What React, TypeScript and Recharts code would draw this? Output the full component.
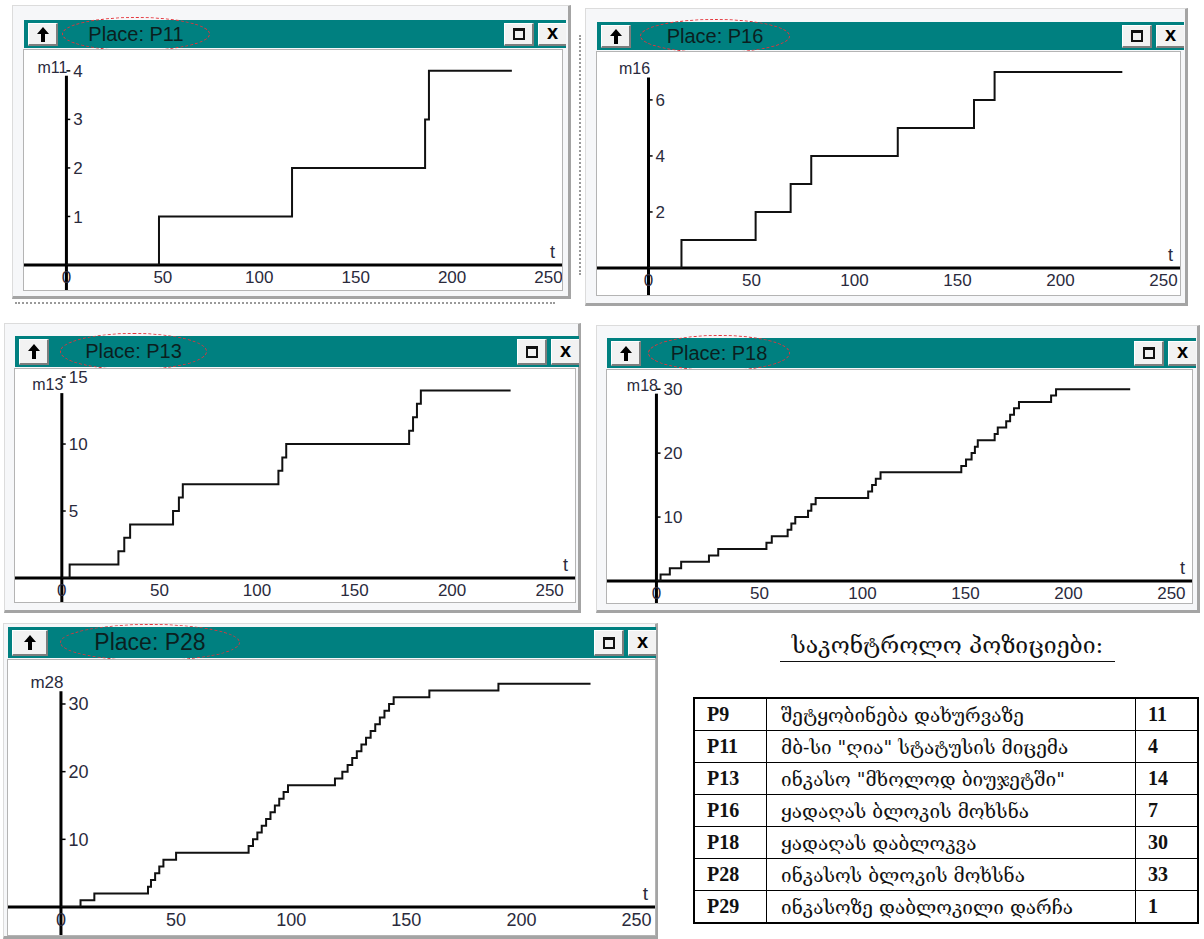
import React from "react";
import { LineChart, Line, XAxis, YAxis, ReferenceLine } from "recharts";

// shared time ticks
const xTicks = [0, 50, 100, 150, 200, 250];

// marking of each place over time (step changes)
const p11Times = [0, 48, 117, 186, 188, 231];
const p11Marks = [0, 1, 2, 3, 4, 4];
const p11YTicks = [1, 2, 3, 4];

const p16Times = [0, 16, 52, 69, 79, 121, 158, 168, 230];
const p16Marks = [0, 1, 2, 3, 4, 5, 6, 7, 7];
const p16YTicks = [2, 4, 6];

const p13Times = [0, 4, 29, 32, 35, 57, 60, 62, 111, 113, 115, 178, 180, 182, 184, 230];
const p13Marks = [0, 1, 2, 3, 4, 5, 6, 7, 8, 9, 10, 11, 12, 13, 14, 14];
const p13YTicks = [5, 10, 15];

const p18Times = [
  0, 2, 6.5, 12, 25.5, 30, 53.4, 56, 63.7, 65.5, 67.4, 73.6, 75.2, 77.3, 102.8, 104.7,
  106.5, 108.8, 148, 150.3, 153, 154.6, 156, 164.2, 165.7, 169.8, 171.7, 173.6, 176,
  191.6, 194, 230,
];
const p18Marks = [
  0, 1, 2, 3, 4, 5, 6, 7, 8, 9, 10, 11, 12, 13, 14, 15, 16, 17, 18, 19, 20, 21, 22, 23,
  24, 25, 26, 27, 28, 29, 30, 30,
];
const p18YTicks = [10, 20, 30];

const p28Times = [
  0, 8.5, 14.5, 37.8, 39.1, 40.9, 42.7, 44.5, 50, 81.5, 83.4, 85.3, 87.2, 89.1, 91, 92.9,
  94.8, 96.7, 98.6, 119, 122.2, 124.5, 126.5, 128.5, 130.5, 132.5, 134.5, 136.5, 138.5,
  140.5, 142.5, 144.5, 160, 190, 230,
];
const p28Marks = [
  0, 1, 2, 3, 4, 5, 6, 7, 8, 9, 10, 11, 12, 13, 14, 15, 16, 17, 18, 19, 20, 21, 22, 23,
  24, 25, 26, 27, 28, 29, 30, 31, 32, 33, 33,
];
const p28YTicks = [10, 20, 30];

// control positions table
const tableTitle = "საკონტროლო პოზიციები:";
const tablePlaces = ["P9", "P11", "P13", "P16", "P18", "P28", "P29"];
const tableNames = [
  "შეტყობინება დახურვაზე",
  "მბ-სი \"ღია\" სტატუსის მიცემა",
  "ინკასო \"მხოლოდ ბიუჯეტში\"",
  "ყადაღას ბლოკის მოხსნა",
  "ყადაღას დაბლოკვა",
  "ინკასოს ბლოკის მოხსნა",
  "ინკასოზე დაბლოკილი დარჩა",
];
const tableCounts = [11, 4, 14, 7, 30, 33, 1];

type Rect = { x: number; y: number; w: number; h: number };

type PanelSpec = {
  place: string;
  mLabel: string;
  times: number[];
  marks: number[];
  yTicks: number[];
  xDomain: [number, number];
  yMax: number;
  axisTop: number;
  axisH: number;
  frame: Rect;
  bar: Rect;
  plot: Rect;
  ellipse: [number, number];
  upW: number;
  font: number;
  titleFont: number;
};

const panels: PanelSpec[] = [
  {
    place: "P11", mLabel: "m11", times: p11Times, marks: p11Marks, yTicks: p11YTicks,
    xDomain: [-22, 257], yMax: 4.43, axisTop: 3.9, axisH: 25,
    frame: { x: 12, y: 5, w: 559, h: 294 }, bar: { x: 24, y: 20, w: 542, h: 28 },
    plot: { x: 24, y: 50, w: 538, h: 240 }, ellipse: [38, 148], upW: 30, font: 17, titleFont: 20,
  },
  {
    place: "P16", mLabel: "m16", times: p16Times, marks: p16Marks, yTicks: p16YTicks,
    xDomain: [-25, 258], yMax: 7.71, axisTop: 6.8, axisH: 27,
    frame: { x: 585, y: 8, w: 603, h: 298 }, bar: { x: 597, y: 22, w: 587, h: 28 },
    plot: { x: 597, y: 52, w: 583, h: 243 }, ellipse: [43, 150], upW: 30, font: 17, titleFont: 20,
  },
  {
    place: "P13", mLabel: "m13", times: p13Times, marks: p13Marks, yTicks: p13YTicks,
    xDomain: [-24, 263], yMax: 15.6, axisTop: 13.8, axisH: 24,
    frame: { x: 4, y: 323, w: 577, h: 290 }, bar: { x: 15, y: 336, w: 564, h: 31 },
    plot: { x: 15, y: 369, w: 560, h: 233 }, ellipse: [45, 147], upW: 30, font: 17, titleFont: 20,
  },
  {
    place: "P18", mLabel: "m18", times: p18Times, marks: p18Marks, yTicks: p18YTicks,
    xDomain: [-24, 260], yMax: 33, axisTop: 29.3, axisH: 22,
    frame: { x: 596, y: 325, w: 604, h: 288 }, bar: { x: 607, y: 338, w: 589, h: 30 },
    plot: { x: 607, y: 370, w: 585, h: 233 }, ellipse: [41, 142], upW: 30, font: 17, titleFont: 20,
  },
  {
    place: "P28", mLabel: "m28", times: p28Times, marks: p28Marks, yTicks: p28YTicks,
    xDomain: [-23, 258], yMax: 36.5, axisTop: 31.9, axisH: 28,
    frame: { x: 3, y: 623, w: 655, h: 316 }, bar: { x: 8, y: 627, w: 648, h: 31 },
    plot: { x: 8, y: 660, w: 647, h: 275 }, ellipse: [52, 180], upW: 36, font: 18, titleFont: 23,
  },
];

const sans = '"Liberation Sans", Arial, sans-serif';
const georgian = '"DejaVu Serif", "DejaVu Sans", serif';
const tickColor = "#2a2a3c";

const btn: React.CSSProperties = {
  position: "absolute",
  background: "#f2f2f2",
  borderTop: "1px solid #ffffff",
  borderLeft: "1px solid #ffffff",
  borderRight: "2px solid #7d7d7d",
  borderBottom: "2px solid #7d7d7d",
  boxSizing: "border-box",
  display: "flex",
  alignItems: "center",
  justifyContent: "center",
  color: "#000",
};

function UpArrow() {
  return (
    <svg width={14} height={17} viewBox="0 0 14 17">
      <path d="M7 1 L13 8 L9 8 L9 16 L5 16 L5 8 L1 8 Z" fill="#000" />
    </svg>
  );
}

function Panel({ s }: { s: PanelSpec }) {
  const data = s.times.map((t, i) => ({ t, m: s.marks[i] }));
  const { frame, bar, plot } = s;
  const labelStyle = { fill: tickColor, fontSize: s.font, fontFamily: sans };
  return (
    <>
      <div
        style={{
          position: "absolute", left: frame.x, top: frame.y, width: frame.w, height: frame.h,
          background: "#f6f7f9", boxSizing: "border-box",
          borderTop: "1px solid #dcdcdc", borderLeft: "1px solid #dcdcdc",
          borderRight: "3px solid #a4a4a4", borderBottom: "3px solid #a4a4a4",
        }}
      />
      <div
        style={{
          position: "absolute", left: bar.x, top: bar.y, width: bar.w, height: bar.h,
          background: "#008080", overflow: "hidden",
        }}
      >
        <div style={{ ...btn, left: 4, top: 3, width: s.upW, height: bar.h - 5 }}>
          <UpArrow />
        </div>
        <div style={{ ...btn, left: bar.w - 62, top: 3, width: 30, height: bar.h - 5 }}>
          <div style={{ width: 12, height: 12, border: "2px solid #111", borderTopWidth: 3, boxSizing: "border-box" }} />
        </div>
        <div style={{ ...btn, left: bar.w - 28, top: 3, width: 30, height: bar.h - 5, fontSize: 20, fontWeight: 700, fontFamily: sans, paddingBottom: 3 }}>
          x
        </div>
      </div>
      <div
        style={{
          position: "absolute", left: bar.x + s.ellipse[0], top: bar.y - 3,
          width: s.ellipse[1], height: bar.h + 6, boxSizing: "border-box",
          border: "1.5px dashed #e5333a", borderRadius: "50%",
          display: "flex", alignItems: "center", justifyContent: "center",
          fontFamily: sans, fontSize: s.titleFont, color: "#0b1f1f",
        }}
      >
        Place: {s.place}
      </div>
      <div
        style={{
          position: "absolute", left: plot.x, top: plot.y, width: plot.w, height: plot.h,
          background: "#fff", outline: "1px solid #b4b4b4",
        }}
      >
        <LineChart width={plot.w} height={plot.h} data={data} margin={{ top: 0, right: 0, bottom: 0, left: 0 }}>
          <XAxis
            type="number" dataKey="t" domain={s.xDomain} ticks={xTicks} interval={0}
            allowDataOverflow axisLine={false} tickLine={false} tickMargin={0}
            height={s.axisH} tick={labelStyle}
          />
          <YAxis hide type="number" domain={[0, s.yMax]} allowDataOverflow />
          <ReferenceLine
            y={0} stroke="#000" strokeWidth={3}
            label={{ value: "t", position: "insideBottomRight", offset: 7, ...labelStyle, fontSize: s.font + 1 }}
          />
          <ReferenceLine
            segment={[{ x: 0, y: -s.yMax * 0.2 }, { x: 0, y: s.axisTop }]}
            ifOverflow="visible" stroke="#000" strokeWidth={3}
            label={{ value: s.mLabel, position: "top", dx: -14, offset: 3, ...labelStyle, fontSize: s.font - 1 }}
          />
          {s.yTicks.map((v) => (
            <ReferenceLine
              key={v}
              segment={[{ x: 0, y: v }, { x: 2, y: v }]}
              ifOverflow="visible" stroke="#000" strokeWidth={1.5}
              label={{ value: String(v), position: "right", offset: 3, ...labelStyle }}
            />
          ))}
          <Line type="stepAfter" dataKey="m" stroke="#111" strokeWidth={2} dot={false} isAnimationActive={false} />
        </LineChart>
      </div>
    </>
  );
}

const cell: React.CSSProperties = {
  border: "1.5px solid #000",
  height: 31,
  padding: "0 0 0 12px",
  verticalAlign: "middle",
  whiteSpace: "nowrap",
};

export default function App() {
  return (
    <div style={{ position: "absolute", left: 0, top: 0, width: 1204, height: 939, background: "#fff", overflow: "hidden" }}>
      {/* dotted scan leftovers between windows */}
      <div style={{ position: "absolute", left: 15, top: 302, width: 540, borderTop: "2px dotted #9a9a9a" }} />
      <div style={{ position: "absolute", left: 579, top: 35, height: 240, borderLeft: "2px dotted #9a9a9a" }} />
      {panels.map((s) => (
        <Panel key={s.place} s={s} />
      ))}
      <div
        style={{
          position: "absolute", left: 780, top: 632, width: 335, textAlign: "center",
          fontFamily: georgian, fontSize: 23, color: "#111",
          borderBottom: "1.5px solid #111", paddingBottom: 3,
        }}
      >
        {tableTitle}
      </div>
      <table
        style={{
          position: "absolute", left: 693, top: 697, width: 506, borderCollapse: "collapse",
          border: "2px solid #000", color: "#111",
        }}
      >
        <tbody>
          {tablePlaces.map((p, i) => (
            <tr key={p}>
              <td style={{ ...cell, width: 59, fontFamily: '"Liberation Serif", serif', fontWeight: 700, fontSize: 20 }}>{p}</td>
              <td style={{ ...cell, width: 354, paddingLeft: 14, fontFamily: georgian, fontSize: 19 }}>
                {tableNames[i]}
              </td>
              <td style={{ ...cell, fontFamily: '"Liberation Serif", serif', fontWeight: 700, fontSize: 20 }}>{tableCounts[i]}</td>
            </tr>
          ))}
        </tbody>
      </table>
    </div>
  );
}
